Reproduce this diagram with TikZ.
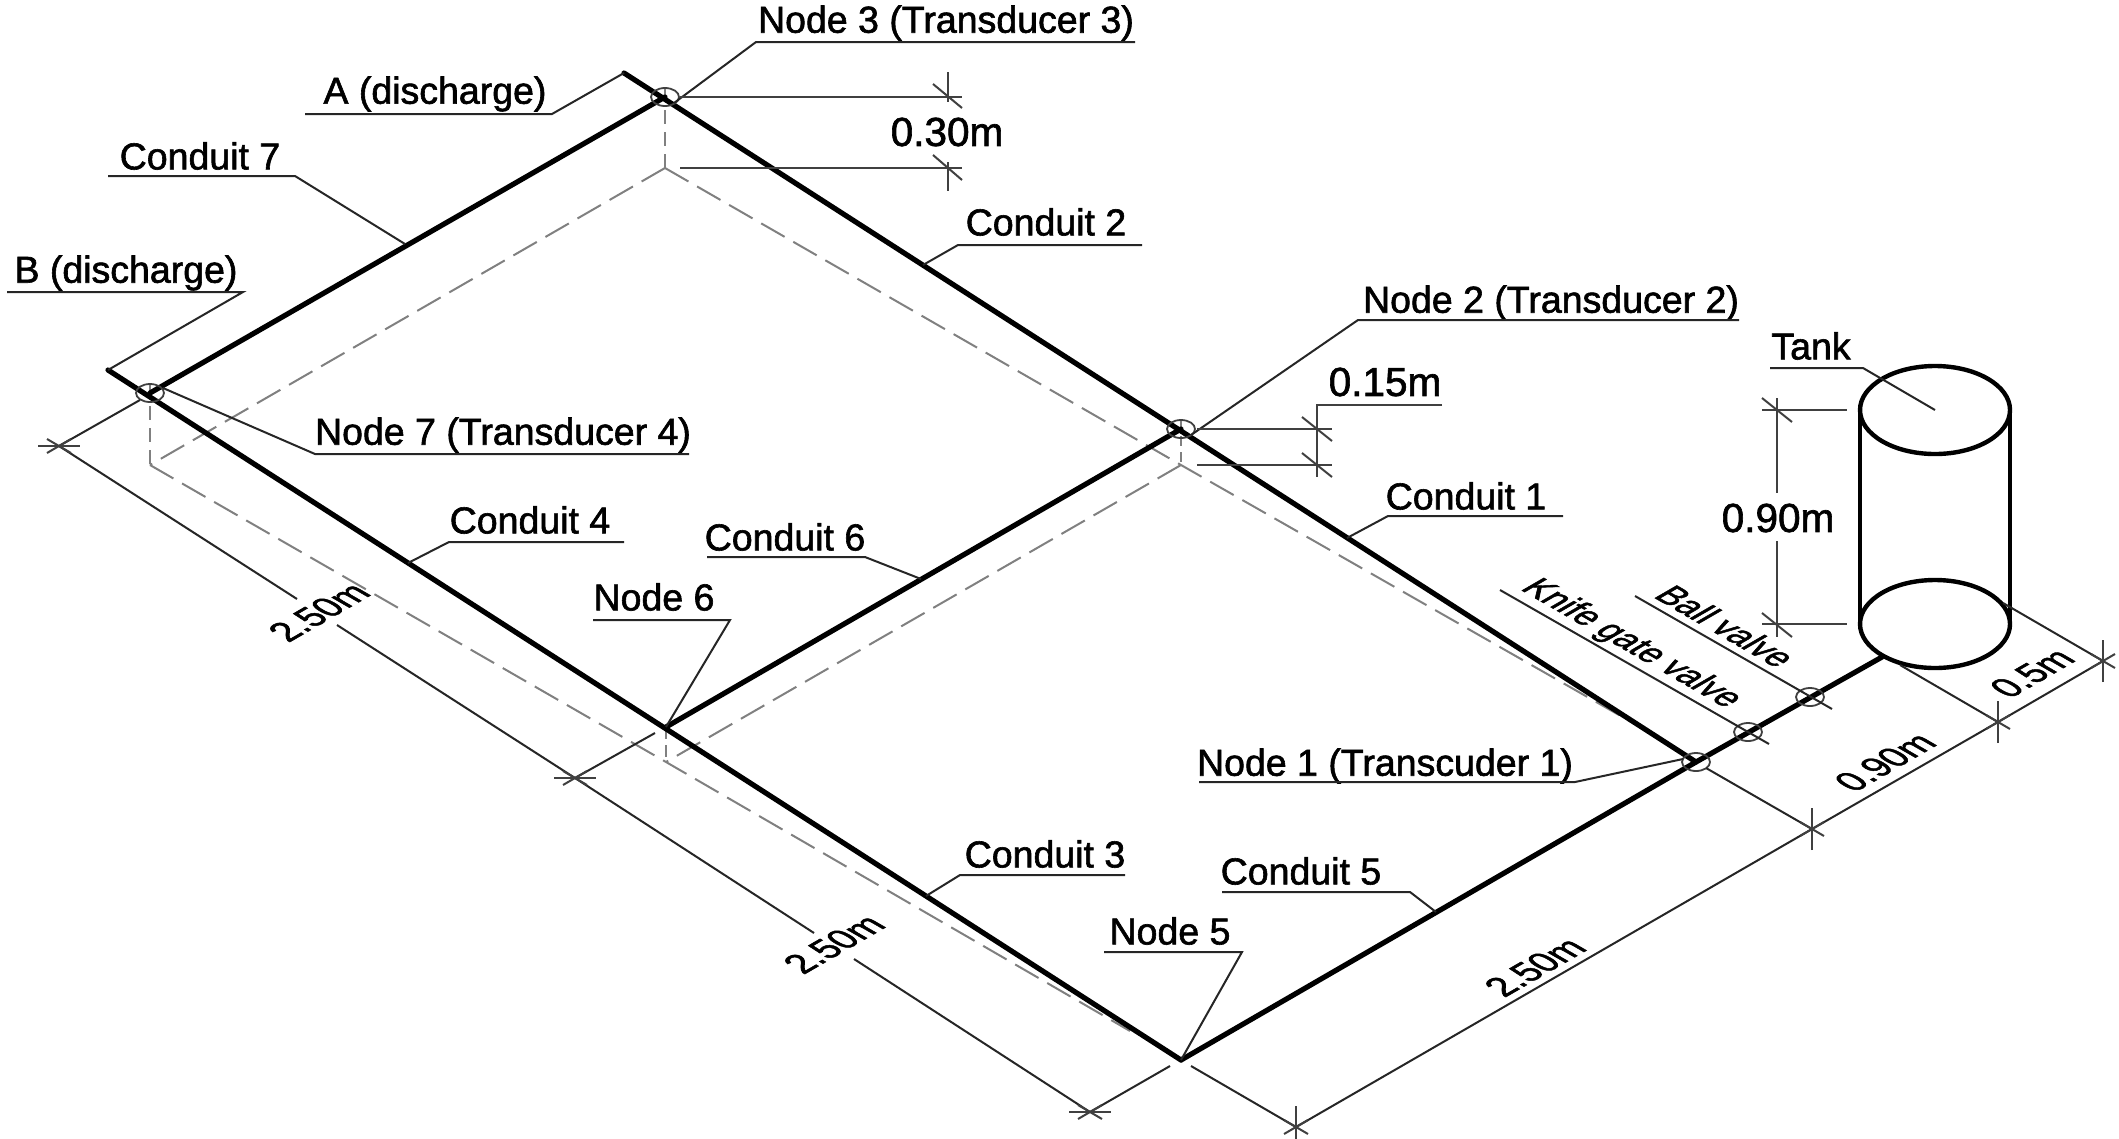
\documentclass[tikz,border=0pt]{standalone}
\usepackage{fontspec}
\setmainfont[FakeBold=1.6]{Liberation Sans}
\tikzset{
  pipe/.style={line width=5.2pt,black,line cap=round,line join=round},
  thin line/.style={line width=2pt,black!85},
  dim line/.style={line width=2pt,black!75},
  gray dash/.style={line width=2pt,black!50,dash pattern=on 27pt off 10pt},
  tank line/.style={line width=4.4pt,black},
  ring/.style={line width=1.8pt,black!75},
  lab/.style={inner sep=0pt,font=\fontsize{37.5}{38}\selectfont},
  dimlab/.style={inner sep=0pt,font=\fontsize{40.5}{41}\selectfont},
  isoup/.style={inner sep=0pt,font=\fontsize{35}{36}\selectfont,rotate=30,xslant=-0.577,yscale=0.95},
  isodown/.style={inner sep=0pt,font=\fontsize{33.5}{34}\selectfont,rotate=-30,xslant=0.577,yscale=0.95},
}
\newcommand{\tickH}[1]{\draw[dim line] ([xshift=-21pt]#1) -- ([xshift=21pt]#1);
  \draw[dim line] ([xshift=-12pt,yshift=-7pt]#1) -- ([xshift=12pt,yshift=7pt]#1);
  \draw[dim line] ([xshift=-12pt,yshift=7pt]#1) -- ([xshift=12pt,yshift=-7pt]#1);}
\newcommand{\tickV}[1]{\draw[dim line] ([yshift=-21pt]#1) -- ([yshift=21pt]#1);
  \draw[dim line] ([xshift=-12pt,yshift=-7pt]#1) -- ([xshift=12pt,yshift=7pt]#1);
  \draw[dim line] ([xshift=-12pt,yshift=7pt]#1) -- ([xshift=12pt,yshift=-7pt]#1);}
\begin{document}
\begin{tikzpicture}[x=1pt,y=-1pt]
\useasboundingbox (0,0) rectangle (2119,1138);
% key points
\coordinate (Aend) at (624,73);
\coordinate (Bend) at (108,370);
\coordinate (n1) at (1696,762);
\coordinate (n2) at (1181,429);
\coordinate (n3) at (665,97);
\coordinate (n5) at (1181,1060);
\coordinate (n6) at (666,727);
\coordinate (n7) at (150,393);
\coordinate (knife) at (1748,732);
\coordinate (ball) at (1810,697);
\coordinate (tankin) at (1882,657);
\coordinate (d3) at (665,168);
\coordinate (d2) at (1181,465);
\coordinate (d7) at (150,465);
\coordinate (d6) at (666,762);
\coordinate (d5) at (1130,1031);
\coordinate (d1) at (1640,727);
% dashed lower level
\draw[gray dash] (d3) -- (d7);
\draw[gray dash] (d3) -- (d2) -- (d1);
\draw[gray dash] (d7) -- (d6) -- (d5);
\draw[gray dash] (d2) -- (d6);
\draw[gray dash,dash pattern=on 14pt off 8pt] ([yshift=9pt]n3) -- (d3);
\draw[gray dash,dash pattern=on 14pt off 8pt] ([yshift=9pt]n7) -- (d7);
\draw[gray dash,dash pattern=on 10pt off 6pt] ([yshift=9pt]n2) -- (d2);
\draw[gray dash,dash pattern=on 12pt off 6pt] (n6) -- (d6);
% pipes
\draw[pipe] (Aend) -- (n1);
\draw[pipe] (Bend) -- (n5);
\draw[pipe] (n3) -- (n7);
\draw[pipe] (n6) -- (n2);
\draw[pipe] (n5) -- (n1) -- (tankin);
% rings
\foreach \p in {n1,n2,n3,n7,knife,ball}
  \draw[ring] (\p) ellipse [x radius=14pt,y radius=9pt];
% tank
\coordinate (tt) at (1935,410);
\coordinate (tb) at (1935,624);
\draw[tank line] (tt) ellipse [x radius=75pt,y radius=44pt];
\draw[tank line] (tb) ellipse [x radius=75pt,y radius=44pt];
\draw[tank line] (1860,410) -- (1860,624);
\draw[tank line] (2010,410) -- (2010,624);
% labels with leaders
\node[lab] (L3) at (946,23) {Node 3 (Transducer 3)};
\coordinate (L3a) at (1135,42); \coordinate (L3b) at (756,42);
\draw[thin line] (L3a) -- (L3b) -- ([xshift=9pt,yshift=-6pt]n3);
\node[lab] (LA) at (435,94) {A (discharge)};
\coordinate (LAa) at (305,114); \coordinate (LAb) at (552,114);
\draw[thin line] (LAa) -- (LAb) -- (Aend);
\node[lab] (LC7) at (200,156) {Conduit 7};
\coordinate (LC7a) at (108,176); \coordinate (LC7b) at (295,176); \coordinate (LC7c) at (405,244);
\draw[thin line] (LC7a) -- (LC7b) -- (LC7c);
\node[lab] (LB) at (126,273) {B (discharge)};
\coordinate (LBa) at (7,292); \coordinate (LBb) at (243,292);
\draw[thin line] (LBa) -- (LBb) -- (Bend);
\node[lab] (LC2) at (1046,222) {Conduit 2};
\coordinate (LC2a) at (1142,245); \coordinate (LC2b) at (958,245); \coordinate (LC2c) at (923,265);
\draw[thin line] (LC2a) -- (LC2b) -- (LC2c);
\node[lab] (L2) at (1551,303) {Node 2 (Transducer 2)};
\coordinate (L2a) at (1739,320); \coordinate (L2b) at (1358,320);
\draw[thin line] (L2a) -- (L2b) -- ([xshift=10pt,yshift=-6pt]n2);
\node[lab] (L7) at (503,435) {Node 7 (Transducer 4)};
\coordinate (L7a) at (689,454); \coordinate (L7b) at (315,454);
\draw[thin line] (L7a) -- (L7b) -- ([xshift=13pt,yshift=5pt]n7);
\node[lab] (LC4) at (530,520) {Conduit 4};
\coordinate (LC4a) at (624,542); \coordinate (LC4b) at (449,542); \coordinate (LC4c) at (408,563);
\draw[thin line] (LC4a) -- (LC4b) -- (LC4c);
\node[lab] (LC6) at (785,537) {Conduit 6};
\coordinate (LC6a) at (707,557); \coordinate (LC6b) at (865,557); \coordinate (LC6c) at (921,579);
\draw[thin line] (LC6a) -- (LC6b) -- (LC6c);
\node[lab] (L6) at (654,597) {Node 6};
\coordinate (L6a) at (593,620); \coordinate (L6b) at (730,620);
\draw[thin line] (L6a) -- (L6b) -- (n6);
\node[lab] (LC1) at (1466,496) {Conduit 1};
\coordinate (LC1a) at (1563,516); \coordinate (LC1b) at (1388,516); \coordinate (LC1c) at (1347,538);
\draw[thin line] (LC1a) -- (LC1b) -- (LC1c);
\node[lab] (L1) at (1385,766) {Node 1 (Transcuder 1)};
\coordinate (L1a) at (1199,782); \coordinate (L1b) at (1575,782);
\draw[thin line] (L1a) -- (L1b) -- ([xshift=-13pt,yshift=3pt]n1);
\node[lab] (LC3) at (1045,854) {Conduit 3};
\coordinate (LC3a) at (1125,875); \coordinate (LC3b) at (960,875); \coordinate (LC3c) at (926,896);
\draw[thin line] (LC3a) -- (LC3b) -- (LC3c);
\node[lab] (LC5) at (1301,871) {Conduit 5};
\coordinate (LC5a) at (1222,892); \coordinate (LC5b) at (1410,892); \coordinate (LC5c) at (1436,912);
\draw[thin line] (LC5a) -- (LC5b) -- (LC5c);
\node[lab] (L5) at (1170,931) {Node 5};
\coordinate (L5a) at (1104,952); \coordinate (L5b) at (1242,952);
\draw[thin line] (L5a) -- (L5b) -- (n5);
\node[lab] (LT) at (1811,346) {Tank};
\coordinate (LTa) at (1770,368); \coordinate (LTb) at (1863,368);
\draw[thin line] (LTa) -- (LTb) -- (tt);
% valves
\node[isodown] (LK) at (1631,644) {Knife gate valve};
\coordinate (LKa) at (1500,590); \coordinate (LKb) at (1769,744);
\draw[thin line] (LKa) -- (LKb);
\node[isodown] (LBv) at (1726,626) {Ball valve};
\coordinate (LBva) at (1635,596); \coordinate (LBvb) at (1832,709);
\draw[thin line] (LBva) -- (LBvb);
% 0.30 m
\draw[dim line] ([xshift=15pt]n3) -- (962,97);
\draw[dim line] ([xshift=15pt]d3) -- (962,168);
\coordinate (t30a) at (948,72); \coordinate (t30b) at (948,191);
\draw[dim line] (t30a) -- (948,102);
\draw[dim line] (948,162) -- (t30b);
\draw[dim line] (933,84) -- (962,108);
\draw[dim line] (933,155) -- (962,180);
\node[dimlab] (D30) at (947,132) {0.30m};
% 0.15 m
\draw[dim line] ([xshift=16pt]n2) -- (1332,429);
\draw[dim line] ([xshift=16pt]d2) -- (1332,465);
\coordinate (u15a) at (1317,405); \coordinate (u15b) at (1442,405); \coordinate (u15c) at (1317,477);
\draw[dim line] (u15b) -- (u15a) -- (u15c);
\draw[dim line] (1302,417) -- (1332,441);
\draw[dim line] (1302,453) -- (1332,477);
\node[dimlab] (D15) at (1385,382) {0.15m};
% tank height
\node[dimlab] (D90t) at (1778,518) {0.90m};
\draw[dim line] (1777,398) -- (1777,493);
\draw[dim line] (1777,541) -- (1777,637);
\draw[dim line] (1762,410) -- (1847,410);
\draw[dim line] (1762,624) -- (1847,624);
\draw[dim line] (1762,398) -- (1792,422);
\draw[dim line] (1762,613) -- (1792,637);
% plan dimensions
\coordinate (a1) at (59,446);
\coordinate (a2) at (575,778);
\coordinate (a3) at (1090,1112);
\coordinate (g1) at (297,599);
\coordinate (g2) at (337,625);
\coordinate (g3) at (814,933);
\coordinate (g4) at (854,959);
\coordinate (b1) at (1296,1127);
\coordinate (b2) at (1812,829);
\coordinate (b3) at (1998,722);
\coordinate (b4) at (2103,661);
\coordinate (e1) at (140,400);
\coordinate (e2) at (655,733);
\coordinate (e3) at (1170,1066);
\coordinate (e4) at (1191,1066);
\coordinate (e5) at (1706,768);
\coordinate (e6) at (1900,665);
\coordinate (e7) at (2003,603);
\draw[thin line] (a1) -- (g1);
\draw[thin line] (g2) -- (a2) -- (g3);
\draw[thin line] (g4) -- (a3);
\draw[thin line] (b1) -- (b2) -- (b3) -- (b4);
\draw[thin line] (e1) -- (a1);
\draw[thin line] (e2) -- (a2);
\draw[thin line] (e3) -- (a3);
\draw[thin line] (e4) -- (b1);
\draw[thin line] (e5) -- (b2);
\draw[thin line] (e6) -- (b3);
\draw[thin line] (e7) -- (b4);
\tickH{a1} \tickH{a2} \tickH{a3}
\tickV{b1} \tickV{b2} \tickV{b3} \tickV{b4}
\node[isoup] (D25a) at (319,612) {2.50m};
\node[isoup] (D25b) at (834,944) {2.50m};
\node[isoup] (D25c) at (1535,967) {2.50m};
\node[isoup] (D90) at (1885,762) {0.90m};
\node[isoup] (D05) at (2032,673) {0.5m};
\end{tikzpicture}
\end{document}
